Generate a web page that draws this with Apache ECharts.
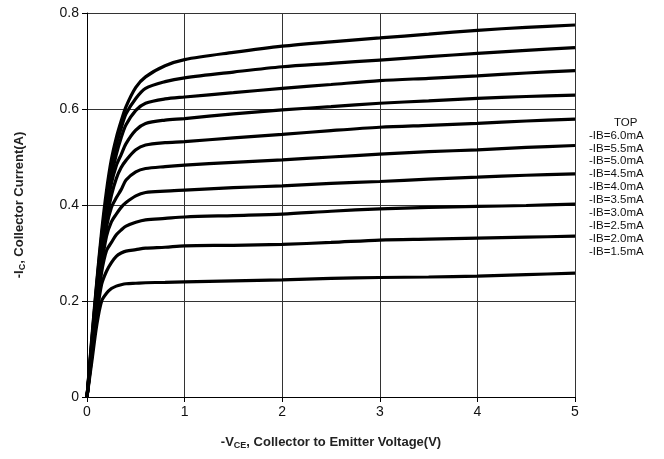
<!DOCTYPE html>
<html>
<head>
<meta charset="utf-8">
<script src="https://cdn.jsdelivr.net/npm/echarts@6/dist/echarts.min.js"></script>
<style>html,body{margin:0;padding:0;background:#fff}#c{width:664px;height:459px}</style>
</head>
<body>
<div id="c"></div>
<script>
// Collector-emitter voltage sample points (V)
var vce = [0, 0.05, 0.1, 0.15, 0.2, 0.25, 0.3, 0.35, 0.4, 0.5, 0.6, 0.8, 1, 1.5, 2, 2.5, 3, 3.5, 4, 4.5, 5];

// Collector current (A) per base current
var ib60 = [0, 0.125, 0.24, 0.345, 0.43, 0.495, 0.54, 0.575, 0.605, 0.645, 0.667, 0.690, 0.703, 0.718, 0.731, 0.740, 0.748, 0.756, 0.764, 0.770, 0.775];
var ib55 = [0, 0.12, 0.235, 0.335, 0.415, 0.48, 0.525, 0.56, 0.59, 0.622, 0.643, 0.657, 0.665, 0.677, 0.688, 0.695, 0.702, 0.709, 0.716, 0.722, 0.728];
var ib50 = [0, 0.115, 0.23, 0.325, 0.40, 0.46, 0.505, 0.54, 0.567, 0.597, 0.612, 0.621, 0.625, 0.634, 0.643, 0.651, 0.659, 0.664, 0.669, 0.675, 0.680];
var ib45 = [0, 0.11, 0.22, 0.315, 0.39, 0.445, 0.482, 0.505, 0.528, 0.556, 0.570, 0.577, 0.580, 0.590, 0.598, 0.605, 0.612, 0.617, 0.622, 0.626, 0.629];
var ib40 = [0, 0.105, 0.21, 0.30, 0.37, 0.42, 0.455, 0.478, 0.493, 0.515, 0.525, 0.530, 0.532, 0.540, 0.547, 0.555, 0.562, 0.566, 0.570, 0.575, 0.579];
var ib35 = [0, 0.10, 0.20, 0.29, 0.355, 0.395, 0.415, 0.432, 0.452, 0.469, 0.476, 0.480, 0.483, 0.489, 0.494, 0.500, 0.506, 0.511, 0.515, 0.520, 0.524];
var ib30 = [0, 0.095, 0.19, 0.275, 0.335, 0.365, 0.381, 0.395, 0.405, 0.419, 0.426, 0.429, 0.431, 0.436, 0.440, 0.445, 0.449, 0.454, 0.458, 0.462, 0.465];
var ib25 = [0, 0.09, 0.18, 0.26, 0.305, 0.322, 0.338, 0.348, 0.356, 0.364, 0.369, 0.372, 0.375, 0.378, 0.381, 0.387, 0.392, 0.395, 0.397, 0.399, 0.402];
var ib20 = [0, 0.085, 0.17, 0.235, 0.262, 0.280, 0.293, 0.300, 0.304, 0.307, 0.310, 0.312, 0.315, 0.316, 0.318, 0.322, 0.327, 0.329, 0.331, 0.333, 0.335];
var ib15 = [0, 0.075, 0.15, 0.20, 0.216, 0.226, 0.231, 0.234, 0.236, 0.237, 0.238, 0.239, 0.240, 0.242, 0.244, 0.247, 0.249, 0.250, 0.252, 0.255, 0.258];

var seriesNames = ['-IB=6.0mA', '-IB=5.5mA', '-IB=5.0mA', '-IB=4.5mA', '-IB=4.0mA', '-IB=3.5mA', '-IB=3.0mA', '-IB=2.5mA', '-IB=2.0mA', '-IB=1.5mA'];
var seriesValues = [ib60, ib55, ib50, ib45, ib40, ib35, ib30, ib25, ib20, ib15];
var legendHeader = 'TOP';

var xTicks = [0, 1, 2, 3, 4, 5];
var yTicks = [0, 0.2, 0.4, 0.6, 0.8];

var chart = echarts.init(document.getElementById('c'), null, {renderer: 'canvas'});

var series = seriesValues.map(function (vals, i) {
  return {
    name: seriesNames[i],
    type: 'line',
    smooth: 0.3,
    showSymbol: false,
    symbol: 'none',
    lineStyle: {color: '#000', width: 3.2},
    data: vce.map(function (v, j) { return [v, vals[j]]; })
  };
});

var legendFont = '11.5px "Liberation Sans", Arial, sans-serif';
var graphics = [{
  type: 'text', left: 614, top: 117,
  style: {text: legendHeader, font: legendFont, fill: '#111'}
}];
seriesNames.forEach(function (n, i) {
  graphics.push({
    type: 'text', left: 589, top: 129.5 + i * 12.9,
    style: {text: n, font: legendFont, fill: '#111'}
  });
});

var axisFont = '"Liberation Sans", Arial, sans-serif';

chart.setOption({
  animation: false,
  backgroundColor: '#fff',
  grid: {left: 87, right: 89, top: 13, bottom: 62, containLabel: false},
  xAxis: {
    type: 'value', min: xTicks[0], max: xTicks[xTicks.length - 1], interval: 1,
    axisLine: {show: true, lineStyle: {color: '#000', width: 1}},
    axisTick: {show: true, length: 5, lineStyle: {color: '#000'}},
    axisLabel: {fontSize: 14, color: '#111', fontFamily: axisFont, margin: 8},
    splitLine: {show: true, lineStyle: {color: '#333', width: 1}},
    name: '{a|-V}{s|CE}{a|, Collector to Emitter Voltage(V)}',
    nameLocation: 'middle', nameGap: 38,
    nameTextStyle: {
      rich: {
        a: {fontSize: 13, fontWeight: 'bold', color: '#222', fontFamily: axisFont},
        s: {fontSize: 9, fontWeight: 'bold', color: '#222', fontFamily: axisFont, verticalAlign: 'bottom', padding: [6, 0, 0, 0]}
      }
    }
  },
  yAxis: {
    type: 'value', min: yTicks[0], max: yTicks[yTicks.length - 1], interval: 0.2,
    axisLine: {show: true, lineStyle: {color: '#000', width: 1}},
    axisTick: {show: true, length: 5, lineStyle: {color: '#000'}},
    axisLabel: {fontSize: 14, color: '#111', fontFamily: axisFont, margin: 8,
      formatter: function (v) { return v === 0 ? '0' : v.toFixed(1); }},
    splitLine: {show: true, lineStyle: {color: '#333', width: 1}},
    name: '{a|-I}{s|C}{a|, Collector Current(A)}',
    nameLocation: 'middle', nameGap: 60, nameRotate: 90,
    nameTextStyle: {
      rich: {
        a: {fontSize: 13, fontWeight: 'bold', color: '#222', fontFamily: axisFont},
        s: {fontSize: 9, fontWeight: 'bold', color: '#222', fontFamily: axisFont, verticalAlign: 'bottom', padding: [6, 0, 0, 0]}
      }
    }
  },
  graphic: graphics,
  series: series
});
</script>
</body>
</html>
